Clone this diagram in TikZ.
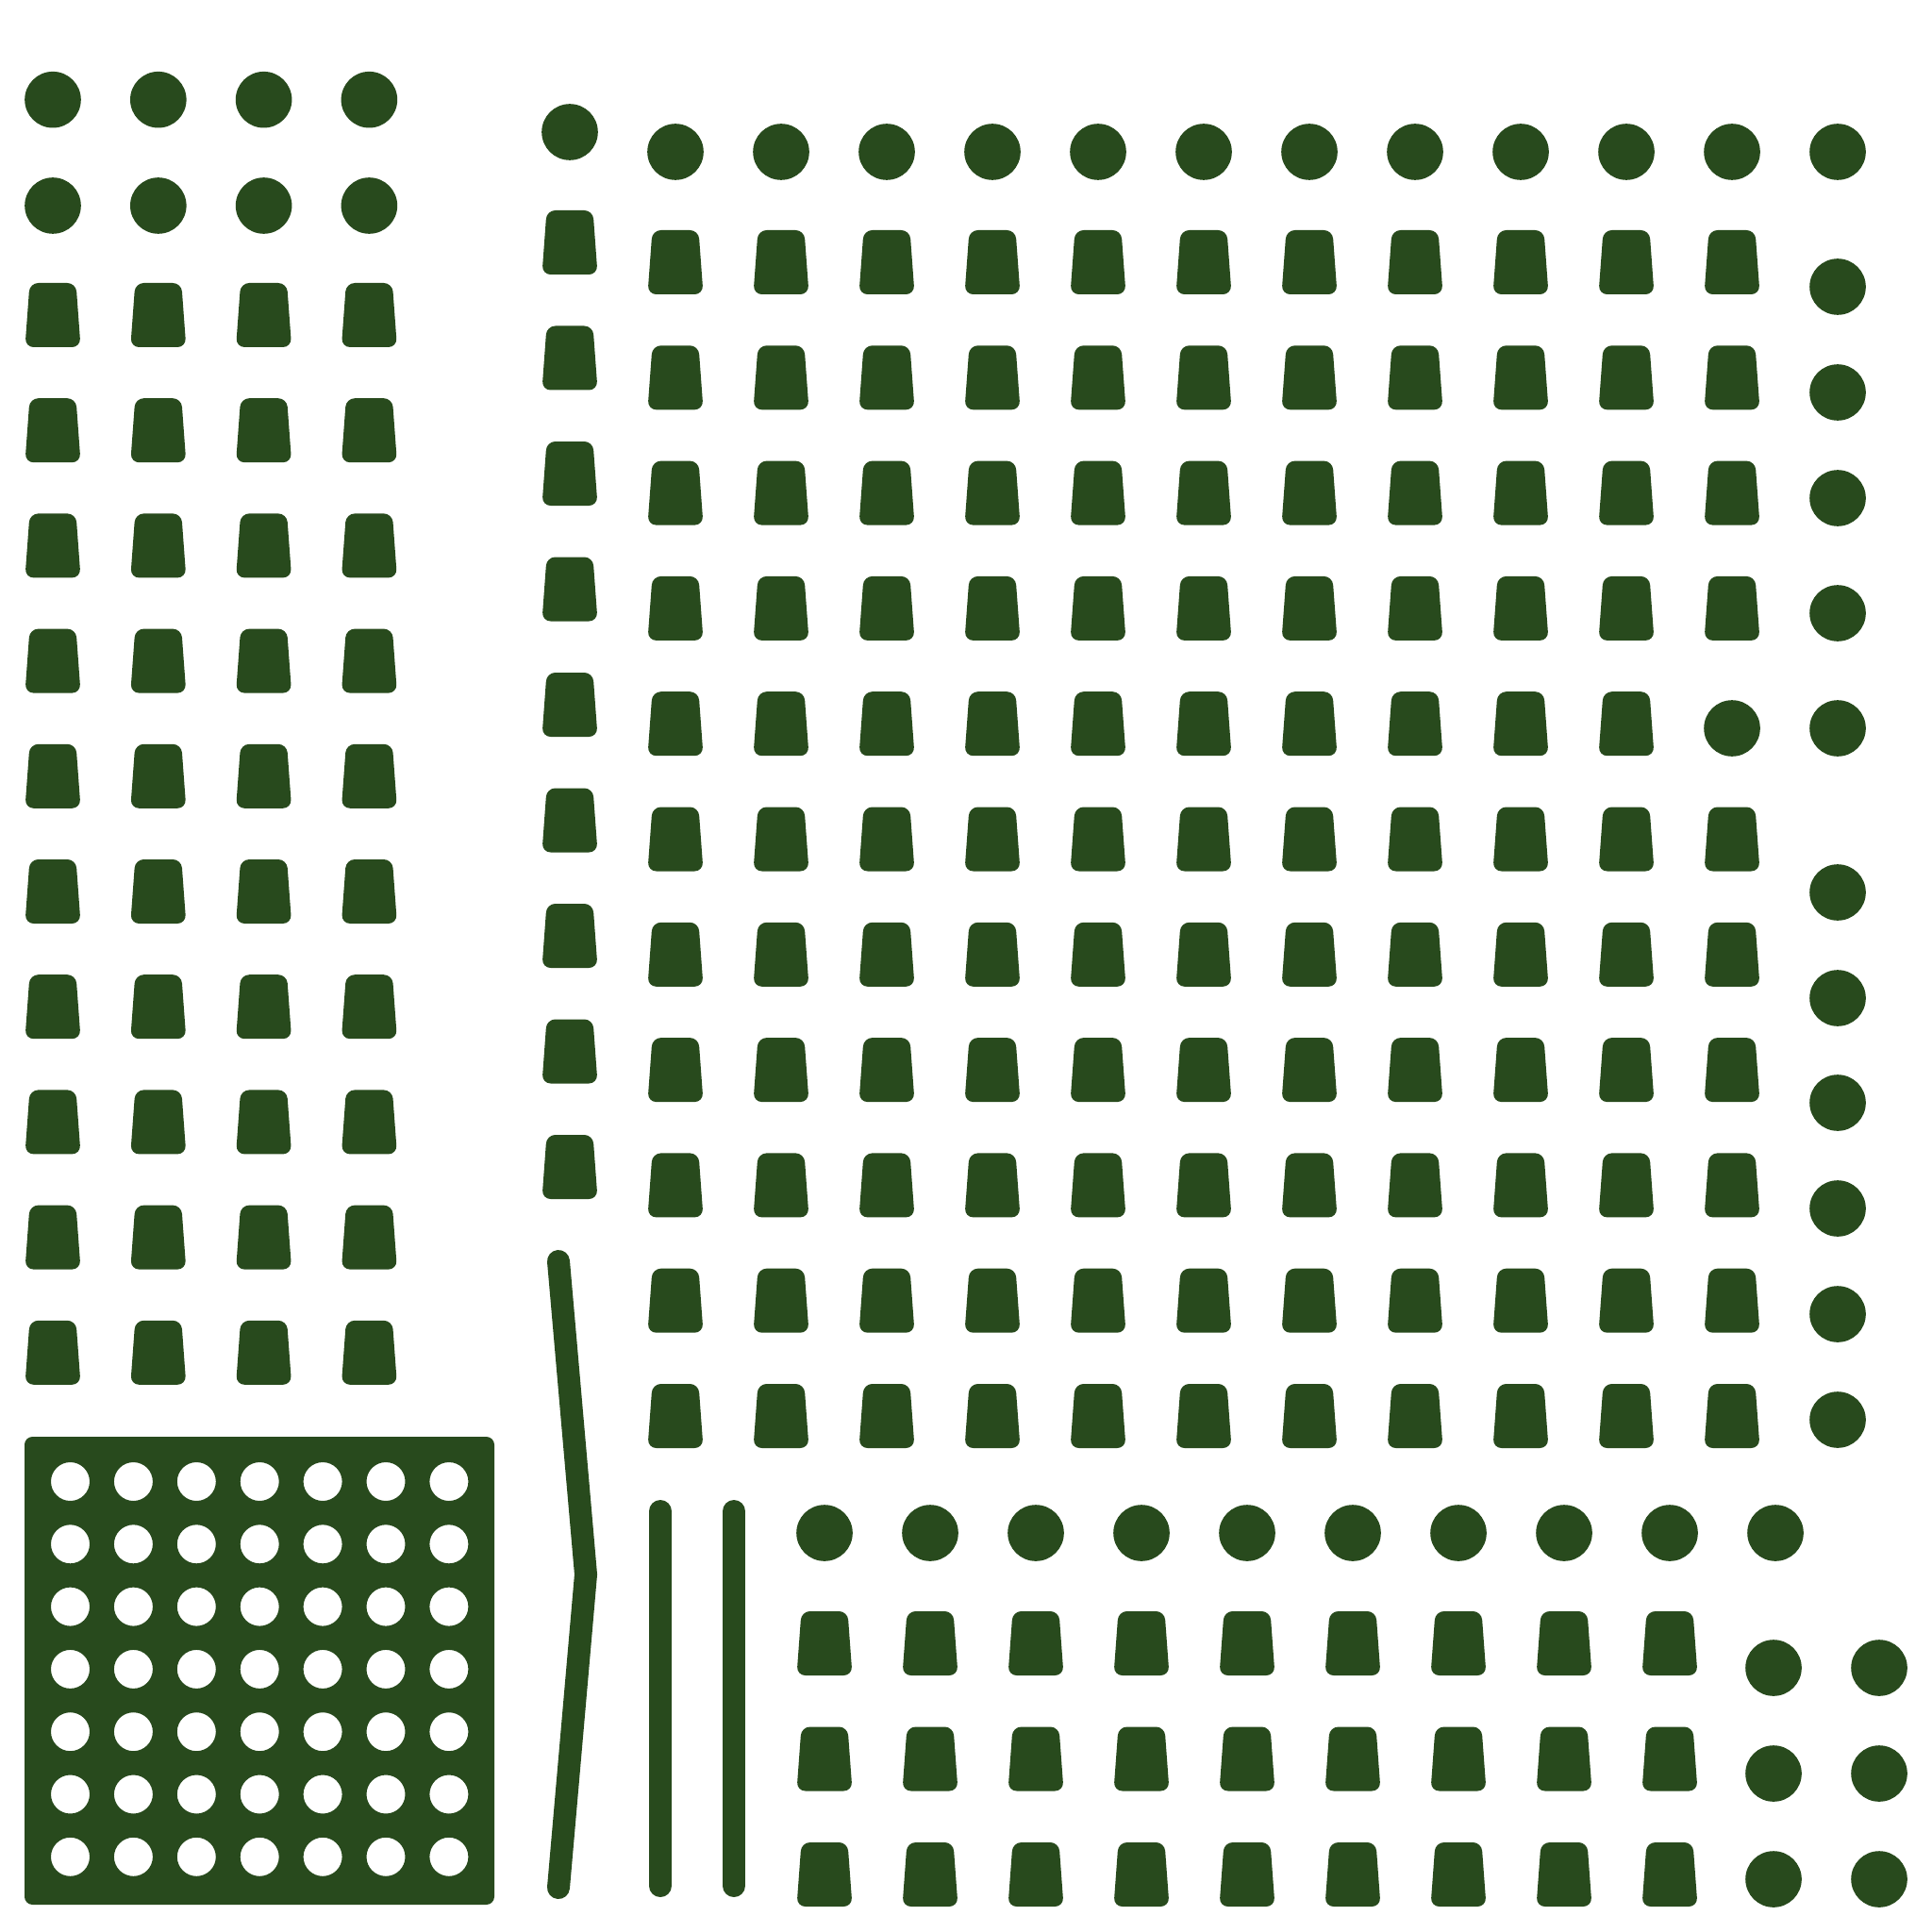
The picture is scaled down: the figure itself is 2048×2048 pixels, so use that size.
\documentclass[tikz,border=0pt]{standalone}
\definecolor{seatgreen}{RGB}{40,74,29}
\begin{document}
\begin{tikzpicture}[x=0.1mm,y=-0.1mm,
  seat/.pic={\fill[seatgreen,rounded corners=2.6pt] (0,0) -- (24.5,0) -- (29.5,68) -- (-29.5,68) -- (-24.5,0) -- cycle;},
  stool/.pic={\fill[seatgreen] (0,0) circle[radius=29.8];},
  wallline/.style={draw=seatgreen,line width=2.4mm,line cap=round}]
\useasboundingbox (0,0) rectangle (2048,2048);
\fill[white] (0,0) rectangle (2048,2048);
% left block
\foreach \i in {0,...,3}{
  \foreach \j in {0,1}{\pic at ({56+111.8*\i},{105.7+112.3*\j}) {stool};}
  \foreach \j in {0,...,9}{\pic at ({56+111.8*\i},{300+122.2*\j}) {seat};}
}
% middle column
\pic at (604,140) {stool};
\foreach \j in {0,...,8}{\pic at (604,{223+122.5*\j}) {seat};}
% main block
\foreach \i in {0,...,11}{\pic at ({716+112*\i},161) {stool};}
\foreach \i in {0,...,10}{
  \foreach \j in {0,...,10}{
    \ifnum\i=10 \ifnum\j=4 \else \pic at ({716+112*\i},{244+122.3*\j}) {seat};\fi
    \else \pic at ({716+112*\i},{244+122.3*\j}) {seat};\fi
  }
}
\pic at (1836,772) {stool};
\foreach \y in {304,416,528,650,772,946,1058,1169,1281,1393,1505}{\pic at (1948,\y) {stool};}
% bottom block
\foreach \i in {0,...,9}{\pic at ({874+112*\i},1625) {stool};}
\foreach \i in {0,...,8}{
  \foreach \j in {0,1,2}{\pic at ({874+112*\i},{1708+122.5*\j}) {seat};}
}
\foreach \x in {1880,1992}{\foreach \y in {1768,1880,1992}{\pic at (\x,\y) {stool};}}
% walls
\coordinate (wa) at (592,1337);
\coordinate (wb) at (621,1669);
\coordinate (wc) at (592,2001);
\draw[wallline,line join=miter] (wa) -- (wb) -- (wc);
\coordinate (b1a) at (700,1602);
\coordinate (b1b) at (700,1999);
\coordinate (b2a) at (778,1602);
\coordinate (b2b) at (778,1999);
\draw[wallline] (b1a) -- (b1b);
\draw[wallline] (b2a) -- (b2b);
% perforated panel
\fill[seatgreen,even odd rule,rounded corners=2.4pt] (26,1523) rectangle (524,2019)
  \foreach \i in {0,...,6}{\foreach \j in {0,...,6}{ [sharp corners] ({74.5+66.9*\i},{1570.5+66.3*\j}) circle[radius=20.5]}};
\end{tikzpicture}
\end{document}
